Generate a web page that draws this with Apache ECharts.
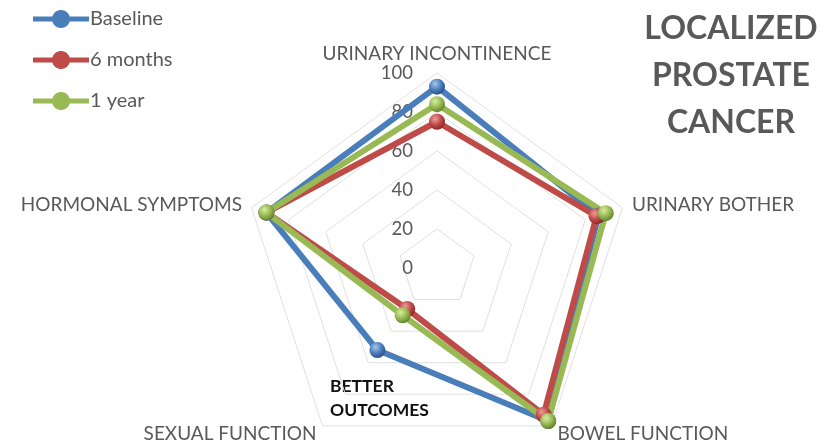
<!DOCTYPE html>
<html>
<head>
<meta charset="utf-8">
<script src="https://cdn.jsdelivr.net/npm/echarts@6/dist/echarts.min.js"></script>
<style>html,body{margin:0;padding:0;background:#fff}#c{width:836px;height:444px}</style>
</head>
<body>
<div id="c"></div>
<script>
// Indicators in ECharts radar order (counter-clockwise from top)
const categories = ['URINARY INCONTINENCE', 'HORMONAL SYMPTOMS', 'SEXUAL FUNCTION', 'BOWEL FUNCTION', 'URINARY BOTHER'];
const seriesNames = ['Baseline', '6 months', '1 year'];
const baseline = [93, 92, 52, 97, 87];
const sixMonths = [75, 92, 26, 93, 86];
const oneYear = [84, 92, 30, 97, 91];
const titleLines = ['LOCALIZED', 'PROSTATE', 'CANCER'];
const noteLines = ['BETTER', 'OUTCOMES'];

const FONT = 'Lato';
const colors = ['#4a7ebb', '#be4b48', '#98b954'];
const lights = ['#a9c6ec', '#ee9c99', '#d6ee9e'];
const darks = ['#28508a', '#8c2623', '#62822a'];
const values = [baseline, sixMonths, oneYear];

function grad(i) {
  return new echarts.graphic.RadialGradient(0.38, 0.32, 0.7, [
    {offset: 0, color: lights[i]},
    {offset: 0.55, color: colors[i]},
    {offset: 1, color: darks[i]}
  ]);
}

// legend icon: a bar with a disc in the middle (polyline-approximated, box 56x18)
function legendIconPath() {
  const W = 56, cx = 28, cy = 9, r = 9, h = 2.5;
  const a = Math.asin(h / r);
  const pts = [];
  const f = v => v.toFixed(2);
  pts.push([0, cy - h]);
  const N = 24;
  for (let k = 0; k <= N; k++) {
    const phi = Math.PI - a - (Math.PI - 2 * a) * k / N;
    pts.push([cx + r * Math.cos(phi), cy - r * Math.sin(phi)]);
  }
  pts.push([W, cy - h], [W, cy + h]);
  for (let k = 0; k <= N; k++) {
    const phi = -a - (Math.PI - 2 * a) * k / N;
    pts.push([cx + r * Math.cos(phi), cy - r * Math.sin(phi)]);
  }
  pts.push([0, cy + h]);
  return 'path://M' + pts.map(p => f(p[0]) + ',' + f(p[1])).join(' L') + ' Z';
}
const iconPath = legendIconPath();

const chart = echarts.init(document.getElementById('c'), null, {renderer: 'canvas'});
chart.setOption({
  animation: false,
  title: {
    text: titleLines.join('\n'),
    left: 726, top: 0, textAlign: 'center',
    textStyle: {fontFamily: FONT, fontSize: 32, fontWeight: 'bold', color: '#595959', lineHeight: 47}
  },
  legend: {
    orient: 'vertical', left: 28, top: 4,
    itemWidth: 56, itemHeight: 18, itemGap: 21,
    textStyle: {fontFamily: FONT, fontSize: 20, color: '#595959', lineHeight: 18, padding: [0, 0, 0, -4]},
    data: seriesNames.map((n, i) => ({name: n, icon: iconPath, itemStyle: {color: colors[i]}}))
  },
  radar: {
    center: [437, 268],
    radius: 195,
    startAngle: 90,
    shape: 'polygon',
    splitNumber: 5,
    nameGap: 10,
    axisName: {fontFamily: FONT, fontSize: 19, color: '#595959'},
    axisLine: {show: false},
    axisTick: {show: false},
    axisLabel: {show: false},
    splitLine: {lineStyle: {color: '#e0e0e0', width: 1}},
    splitArea: {show: false},
    indicator: categories.map((c, i) => {
      const o = {name: c, min: 0, max: 100};
      if (i === 0) o.axisLabel = {show: true, showMinLabel: true, fontFamily: FONT, fontSize: 18.5, color: '#595959', margin: 24};
      return o;
    })
  },
  graphic: [{
    type: 'text', left: 330, top: 374,
    style: {text: noteLines.join('\n'), fontFamily: FONT, fontSize: 17.5, fontWeight: 'bold', fill: '#111', lineHeight: 24}
  }],
  series: seriesNames.map((n, i) => ({
    type: 'radar',
    name: n,
    symbol: 'circle',
    symbolSize: 16,
    lineStyle: {color: colors[i], width: 6},
    itemStyle: {color: grad(i), borderWidth: 0},
    data: [{name: n, value: values[i]}]
  }))
});
</script>
</body>
</html>
